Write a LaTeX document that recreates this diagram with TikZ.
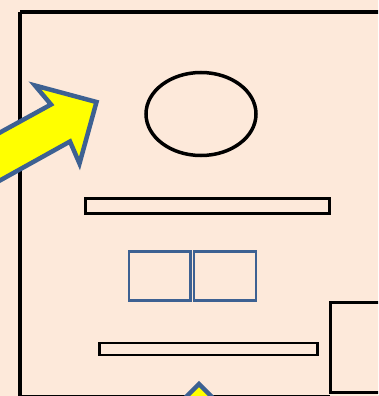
\documentclass[tikz,border=0pt]{standalone}
\definecolor{peach}{HTML}{FDE9DA}
\definecolor{arrowblue}{HTML}{3D6192}
\definecolor{arrowyellow}{HTML}{FFFF00}
\begin{document}
\begin{tikzpicture}[x=1pt,y=-1pt,
  blackbox/.style={draw=black,line join=miter},
  bluebox/.style={draw=arrowblue,line width=2.2pt},
  blockarrow/.style={draw=arrowblue,fill=arrowyellow,line width=4.5pt,line join=miter}]
\useasboundingbox (0,0) rectangle (378,396);
\clip (0,0) rectangle (378,396);
\fill[peach] (0,0) rectangle (378,396);
% main frame
\draw[blackbox,line width=4.8pt] (20,12) -- (385,12);
\draw[blackbox,line width=4.8pt] (20,12) -- (20,400);
\draw[blackbox,line width=4.8pt] (20,397.8) -- (385,397.8);
% ellipse
\draw[blackbox,line width=3.5pt] (201,114) ellipse [x radius=55, y radius=41.5];
% thin bars
\draw[blackbox,line width=2.8pt] (85.5,198.5) rectangle (329.5,213.5);
\draw[blackbox,line width=2.8pt] (99.5,343) rectangle (317.5,355);
% blue squares
\draw[bluebox] (129,251.5) rectangle (190.5,300.5);
\draw[bluebox] (194,251.5) rectangle (256,300.5);
% right box
\fill[peach] (330,302) rectangle (385,396);
\draw[blackbox,line width=3pt] (330.5,302.5) rectangle (385,392.5);
% left block arrow
\draw[blockarrow] (96.5,102) -- (79.5,163.5) -- (70,141.5) -- (-10,186) -- (-10,138) -- (51,104.5) -- (35,85.5) -- cycle;
% bottom block arrow
\draw[blockarrow] (199,384) -- (234,419) -- (164,419) -- cycle;
\end{tikzpicture}
\end{document}
